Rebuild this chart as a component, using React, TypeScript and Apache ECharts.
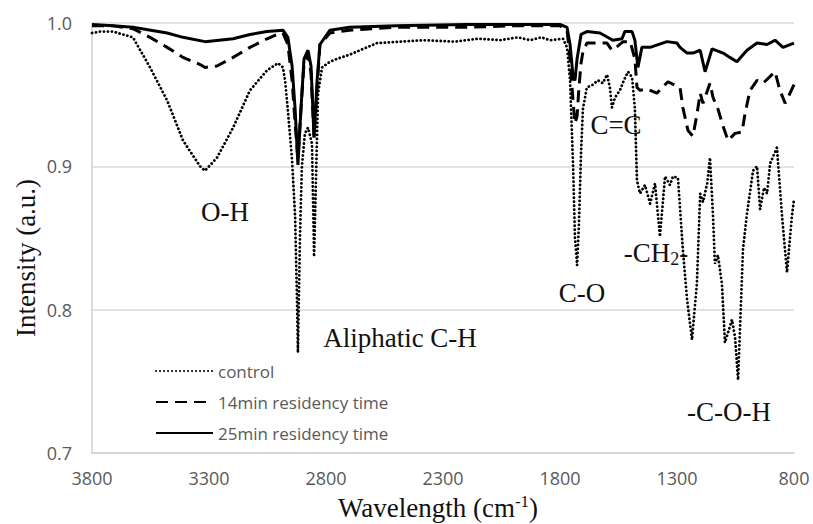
import React, { useEffect, useRef } from "react";
import * as echarts from "echarts";

const xTicks = [3800, 3300, 2800, 2300, 1800, 1300, 800];
const yTicks = [0.7, 0.8, 0.9, 1.0];
const seriesNames = ["control", "14min residency time", "25min residency time"];

const controlWn = [3800, 3766, 3710, 3625, 3552, 3479, 3411, 3338, 3317, 3266, 3197, 3125, 3052, 3005, 2984, 2975, 2963, 2945, 2932, 2924, 2920, 2911, 2903, 2890, 2877, 2860, 2851, 2838, 2834, 2817, 2783, 2753, 2697, 2655, 2582, 2484, 2386, 2250, 2150, 2056, 1980, 1928, 1880, 1843, 1787, 1770, 1757, 1744, 1736, 1727, 1719, 1710, 1702, 1685, 1659, 1638, 1617, 1599, 1587, 1578, 1565, 1544, 1527, 1509, 1492, 1480, 1471, 1458, 1437, 1415, 1394, 1373, 1351, 1330, 1317, 1296, 1275, 1257, 1236, 1215, 1201, 1189, 1171, 1159, 1146, 1138, 1125, 1108, 1095, 1065, 1052, 1039, 1018, 1001, 975, 958, 945, 928, 915, 902, 873, 851, 830, 809, 800];
const controlVal = [0.993, 0.994, 0.994, 0.990, 0.969, 0.946, 0.918, 0.900, 0.897, 0.906, 0.927, 0.953, 0.967, 0.972, 0.969, 0.960, 0.939, 0.904, 0.865, 0.807, 0.770, 0.853, 0.900, 0.923, 0.927, 0.916, 0.837, 0.923, 0.951, 0.969, 0.973, 0.975, 0.978, 0.981, 0.986, 0.987, 0.988, 0.987, 0.989, 0.988, 0.990, 0.988, 0.990, 0.988, 0.989, 0.983, 0.960, 0.900, 0.850, 0.831, 0.860, 0.910, 0.940, 0.955, 0.957, 0.960, 0.958, 0.964, 0.955, 0.941, 0.948, 0.953, 0.960, 0.966, 0.962, 0.940, 0.890, 0.881, 0.887, 0.874, 0.888, 0.851, 0.893, 0.887, 0.893, 0.892, 0.842, 0.807, 0.779, 0.818, 0.881, 0.875, 0.888, 0.906, 0.865, 0.832, 0.838, 0.818, 0.777, 0.793, 0.781, 0.751, 0.842, 0.867, 0.897, 0.900, 0.870, 0.885, 0.881, 0.902, 0.913, 0.865, 0.826, 0.865, 0.877];

const min14Wn = [3800, 3710, 3625, 3552, 3479, 3411, 3338, 3317, 3266, 3197, 3125, 3052, 3009, 2984, 2963, 2945, 2932, 2920, 2907, 2894, 2877, 2864, 2851, 2838, 2826, 2783, 2700, 2500, 2200, 2000, 1800, 1770, 1757, 1744, 1736, 1727, 1719, 1710, 1702, 1685, 1640, 1599, 1578, 1560, 1530, 1500, 1480, 1471, 1458, 1428, 1386, 1339, 1287, 1275, 1253, 1232, 1215, 1201, 1189, 1159, 1146, 1125, 1103, 1082, 1052, 1022, 1009, 988, 958, 932, 881, 860, 838, 817, 800];
const min14Val = [0.998, 0.998, 0.996, 0.990, 0.983, 0.976, 0.971, 0.969, 0.970, 0.976, 0.983, 0.989, 0.992, 0.993, 0.985, 0.960, 0.930, 0.905, 0.940, 0.972, 0.978, 0.965, 0.920, 0.955, 0.985, 0.993, 0.995, 0.997, 0.997, 0.998, 0.998, 0.995, 0.975, 0.945, 0.930, 0.935, 0.955, 0.972, 0.980, 0.986, 0.986, 0.986, 0.981, 0.983, 0.987, 0.987, 0.975, 0.955, 0.953, 0.954, 0.951, 0.959, 0.955, 0.941, 0.925, 0.921, 0.936, 0.951, 0.944, 0.958, 0.948, 0.940, 0.928, 0.918, 0.923, 0.924, 0.937, 0.953, 0.960, 0.958, 0.966, 0.953, 0.944, 0.951, 0.957];

const min25Wn = [3800, 3710, 3625, 3479, 3411, 3317, 3197, 3125, 3052, 2984, 2963, 2945, 2932, 2920, 2907, 2894, 2877, 2864, 2851, 2838, 2826, 2783, 2700, 2500, 2200, 2000, 1800, 1770, 1757, 1744, 1736, 1727, 1710, 1685, 1629, 1574, 1535, 1523, 1492, 1480, 1467, 1450, 1415, 1343, 1300, 1287, 1257, 1232, 1201, 1180, 1150, 1103, 1074, 1044, 1001, 958, 915, 881, 847, 800];
const min25Val = [0.999, 0.998, 0.997, 0.993, 0.990, 0.987, 0.989, 0.992, 0.994, 0.995, 0.990, 0.970, 0.940, 0.901, 0.940, 0.975, 0.981, 0.970, 0.920, 0.960, 0.985, 0.995, 0.997, 0.998, 0.999, 0.999, 0.999, 0.997, 0.985, 0.962, 0.960, 0.975, 0.992, 0.994, 0.993, 0.988, 0.989, 0.994, 0.994, 0.988, 0.969, 0.983, 0.983, 0.987, 0.986, 0.983, 0.979, 0.979, 0.981, 0.966, 0.982, 0.979, 0.976, 0.973, 0.981, 0.986, 0.985, 0.988, 0.983, 0.986];

const zip = (a: number[], b: number[]) => a.map((x, i) => [x, b[i]]);

const serif = "'Liberation Serif', 'Times New Roman', serif";
const sans = "'Open Sans', sans-serif";

export default function App() {
  const ref = useRef<HTMLDivElement>(null);
  useEffect(() => {
    if (!ref.current) return;
    const chart = echarts.init(ref.current, undefined, { renderer: "svg" });
    const annot = (text: string, x: number, y: number) => ({
      type: "text",
      x,
      y,
      style: {
        text,
        fontFamily: serif,
        fontSize: 27,
        fill: "#111",
        align: "center",
        verticalAlign: "middle",
      },
    });
    chart.setOption({
      animation: false,
      backgroundColor: "#fff",
      grid: { left: 92, right: 19, top: 23, bottom: 71, containLabel: false },
      xAxis: {
        type: "value",
        inverse: true,
        min: xTicks[xTicks.length - 1],
        max: xTicks[0],
        interval: 500,
        axisLine: { show: true, lineStyle: { color: "#d0d0d0", width: 1.5 } },
        axisTick: { show: false },
        splitLine: { show: false },
        axisLabel: {
          color: "#595959",
          fontFamily: sans,
          fontSize: 18,
          margin: 16,
          formatter: (v: number) => String(v),
        },
      },
      yAxis: {
        type: "value",
        min: yTicks[0],
        max: yTicks[yTicks.length - 1],
        interval: 0.1,
        axisLine: { show: true, lineStyle: { color: "#d0d0d0", width: 1.5 } },
        axisTick: { show: false },
        splitLine: { show: true, lineStyle: { color: "#d9d9d9", width: 1.5 } },
        axisLabel: {
          color: "#595959",
          fontFamily: sans,
          fontSize: 18,
          margin: 20,
          formatter: (v: number) => v.toFixed(1),
        },
      },
      legend: {
        orient: "vertical",
        left: 150,
        top: 356,
        itemWidth: 57,
        itemHeight: 14,
        itemGap: 11,
        data: seriesNames,
        itemStyle: { opacity: 0, borderWidth: 0 },
        textStyle: { color: "#595959", fontFamily: sans, fontSize: 17, lineHeight: 20 },
      },
      series: [
        {
          name: seriesNames[0],
          type: "line",
          data: zip(controlWn, controlVal),
          showSymbol: false,
          symbol: "none",
          lineStyle: { color: "#000", width: 2.8, type: [0.1, 3.9], cap: "round" },
          itemStyle: { color: "#000" },
          z: 1,
        },
        {
          name: seriesNames[1],
          type: "line",
          data: zip(min14Wn, min14Val),
          showSymbol: false,
          symbol: "none",
          lineStyle: { color: "#000", width: 3, type: [12, 7] },
          itemStyle: { color: "#000" },
          z: 2,
        },
        {
          name: seriesNames[2],
          type: "line",
          data: zip(min25Wn, min25Val),
          showSymbol: false,
          symbol: "none",
          lineStyle: { color: "#000", width: 3 },
          itemStyle: { color: "#000" },
          z: 3,
        },
      ],
      graphic: [
        annot("O-H", 225, 212),
        annot("Aliphatic C-H", 400, 338),
        annot("C-O", 582, 293),
        annot("C=C", 616, 125),
        annot("-C-O-H", 729, 412),
        {
          type: "text",
          x: 656,
          y: 253,
          style: {
            text: "{a|-CH}{s|2}{a|-}",
            align: "center",
            verticalAlign: "middle",
            rich: {
              a: { fontFamily: serif, fontSize: 27, fill: "#111", lineHeight: 30, verticalAlign: "middle" },
              s: { fontFamily: serif, fontSize: 18, fill: "#111", lineHeight: 30, verticalAlign: "bottom" },
            },
          },
        },
        {
          type: "text",
          x: 438,
          y: 508,
          style: {
            text: "{a|Wavelength (cm}{s|-1}{a|)}",
            align: "center",
            verticalAlign: "middle",
            rich: {
              a: { fontFamily: serif, fontSize: 27, fill: "#111", lineHeight: 30, verticalAlign: "middle" },
              s: { fontFamily: serif, fontSize: 17, fill: "#111", lineHeight: 30, verticalAlign: "top" },
            },
          },
        },
        {
          type: "text",
          x: 26,
          y: 258,
          rotation: Math.PI / 2,
          style: {
            text: "Intensity (a.u.)",
            fontFamily: serif,
            fontSize: 27,
            fill: "#111",
            align: "center",
            verticalAlign: "middle",
          },
        },
      ],
    });
    return () => chart.dispose();
  }, []);
  return <div ref={ref} style={{ width: 813, height: 524, position: "absolute", left: 0, top: 0 }} />;
}
